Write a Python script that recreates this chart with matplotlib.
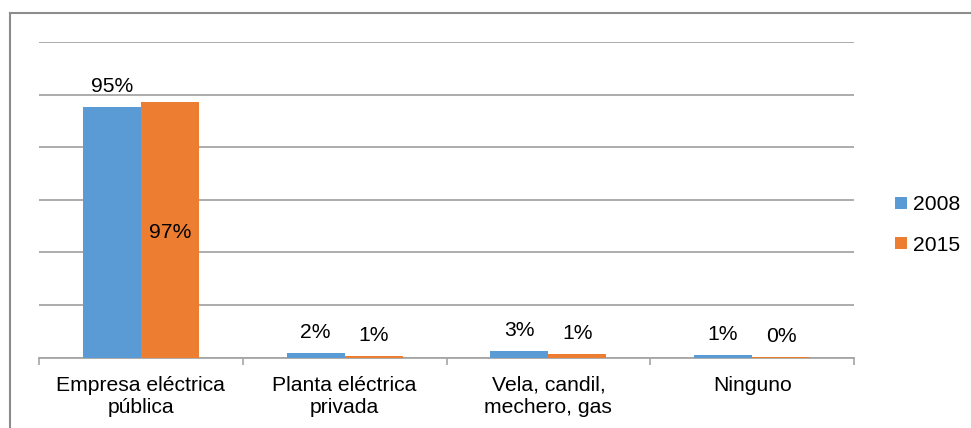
import matplotlib
matplotlib.use("Agg")
import matplotlib.pyplot as plt
from matplotlib.lines import Line2D
import numpy as np

plt.rcParams['font.family'] = ['Liberation Sans', 'DejaVu Sans']

# fuente de alumbrado del hogar, porcentaje por año
categorias = ["Empresa eléctrica\npública", "Planta eléctrica\nprivada",
              "Vela, candil,\nmechero, gas", "Ninguno"]
anios = ["2008", "2015"]
valores_2008 = [95.2, 1.6, 2.6, 0.8]
valores_2015 = [97.0, 0.6, 1.3, 0.3]

azul = "#5B9BD5"
naranja = "#ED7D31"
gris = "#A6A6A6"
fs = 15.2

W, H = 971, 428
fig = plt.figure(figsize=(W / 100, H / 100), dpi=100)
ax = fig.add_axes([39 / W, 1 - 357.5 / H, (854 - 39) / W, (357.5 - 42) / H])

x = np.arange(len(categorias))
ancho = 0.285
b1 = ax.bar(x - ancho / 2, valores_2008, ancho, color=azul, label=anios[0], zorder=3)
b2 = ax.bar(x + ancho / 2, valores_2015, ancho, color=naranja, label=anios[1], zorder=3)

ax.set_xlim(-0.5, len(categorias) - 0.5)
ax.set_ylim(0, 120)
ax.set_yticks(np.arange(0, 121, 20))
ax.yaxis.grid(True, color=gris, linewidth=1.3)
ax.set_axisbelow(True)
ax.tick_params(axis='y', left=False, labelleft=False)

ax.set_xticks(x)
ax.set_xticklabels(categorias, fontsize=fs, linespacing=1.2)
ax.tick_params(axis='x', which='major', length=0, pad=13)
ax.set_xticks(np.arange(-0.5, len(categorias)), minor=True)
ax.tick_params(axis='x', which='minor', length=5, width=1.2, color=gris, direction='out')

for s in ['left', 'top', 'right']:
    ax.spines[s].set_visible(False)
ax.spines['bottom'].set_color(gris)
ax.spines['bottom'].set_linewidth(1.3)

# etiquetas de valor
for i, v in enumerate(valores_2008):
    ax.annotate(f"{v:.0f}%", (x[i] - ancho / 2, v), xytext=(0, 8),
                textcoords='offset points', ha='center', va='bottom', fontsize=fs)
for i, v in enumerate(valores_2015):
    if i == 0:
        ax.text(x[i] + ancho / 2, v / 2 - 1, f"{v:.0f}%", ha='center', va='center', fontsize=fs)
    else:
        ax.annotate(f"{v:.0f}%", (x[i] + ancho / 2, v), xytext=(0, 8),
                    textcoords='offset points', ha='center', va='bottom', fontsize=fs)

fig.legend(handles=[b1, b2], loc='center left', bbox_to_anchor=(876 / W, 1 - 225 / H),
           frameon=False, fontsize=fs, handlelength=0.55, handleheight=0.55,
           handletextpad=0.3, labelspacing=1.0)

# marco del gráfico
fig.add_artist(Line2D([9.5 / W, 9.5 / W], [0, 1 - 13 / H], color="#8C8C8C", lw=1.5,
                      transform=fig.transFigure))
fig.add_artist(Line2D([9.5 / W, 1], [1 - 13 / H, 1 - 13 / H], color="#8C8C8C", lw=1.5,
                      transform=fig.transFigure))

fig.savefig("out.png", dpi=100)
